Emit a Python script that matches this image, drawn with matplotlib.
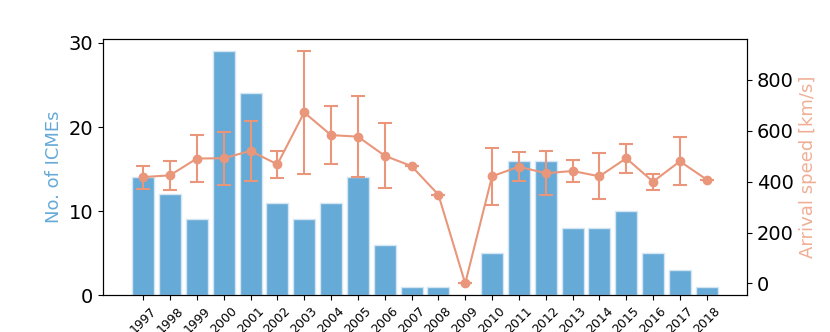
import matplotlib
matplotlib.use("Agg")
import matplotlib.pyplot as plt
import numpy as np

years = [1997, 1998, 1999, 2000, 2001, 2002, 2003, 2004, 2005, 2006, 2007,
         2008, 2009, 2010, 2011, 2012, 2013, 2014, 2015, 2016, 2017, 2018]
n_icmes = [14, 12, 9, 29, 24, 11, 9, 11, 14, 6, 1, 1, 0, 5, 16, 16, 8, 8, 10, 5, 3, 1]
speed = [418, 425, 491, 492, 521, 468, 672, 583, 577, 502, 461,
         349, 0, 421, 459, 433, 442, 421, 492, 400, 480, 408]
speed_err = [45, 57, 94, 105, 117, 53, 243, 113, 158, 128, 0,
             0, 0, 112, 58, 86, 43, 91, 56, 31, 95, 0]

bar_c = "#66aad7"
line_c = "#e9967a"

fig = plt.figure(figsize=(8.3, 3.32), dpi=100)
ax = fig.add_axes([0.124, 0.111, 0.776, 0.771])
x = np.arange(len(years))
ax.bar(x, n_icmes, width=0.82, color=bar_c, edgecolor="#d4e6f3", linewidth=1)
ax.set_ylabel("No. of ICMEs", color=bar_c, fontsize=13)
ax.set_xticks(x)
ax.set_xticklabels(years, rotation=45, fontsize=9)
ax.tick_params(axis="y", labelsize=14)
ax.set_xlim(-1.5, len(years) + 0.5)
ax.set_yticks([0, 10, 20, 30])

ax2 = ax.twinx()
ax2.errorbar(x, speed, yerr=speed_err, color=line_c, marker="o", ms=6,
             lw=1.5, capsize=5, elinewidth=1.5, capthick=1.5)
ax2.set_ylabel("Arrival speed [km/s]", color="#f0ae95", fontsize=13)
ax2.tick_params(axis="y", labelsize=14)
ax2.set_yticks([0, 200, 400, 600, 800])
ax2.set_ylim(-46, 960)

plt.savefig("out.png", dpi=100, facecolor="white")
